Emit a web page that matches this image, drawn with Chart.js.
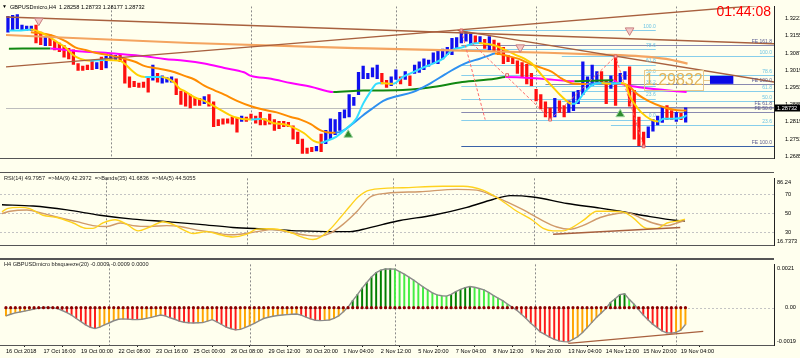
<!DOCTYPE html>
<html><head><meta charset="utf-8">
<script src="https://cdn.jsdelivr.net/npm/chart.js@4.4.1/dist/chart.umd.min.js"></script>
<style>
html,body{margin:0;padding:0;background:#FFFFEE;}
#wrap{position:relative;width:800px;height:358px;overflow:hidden;background:#FFFFEE;}
canvas{position:absolute;left:0;}
</style></head><body>
<div id="wrap">
<canvas id="cPrice" width="800" height="172" style="top:0;width:800px;height:172px"></canvas>
<canvas id="cRsi" width="800" height="87" style="top:172px;width:800px;height:87px"></canvas>
<canvas id="cHist" width="800" height="100" style="top:258px;width:800px;height:100px"></canvas>
</div>
<script>
// ---------------- DATA ----------------
const timeBars = [0,8,16,24,32,40,48,56,64,72,80,88,96,104,112,120,128,136,144];
const timeLabels = ["16 Oct 2018","17 Oct 16:00","19 Oct 00:00","22 Oct 08:00","23 Oct 16:00","25 Oct 00:00","26 Oct 08:00","29 Oct 12:00","30 Oct 20:00","1 Nov 04:00","2 Nov 12:00","5 Nov 20:00","7 Nov 04:00","8 Nov 12:00","9 Nov 20:00","13 Nov 04:00","14 Nov 12:00","15 Nov 20:00","19 Nov 04:00"];
const sepBars = [22,52,83,113,143];
const priceTicks = [1.32210,1.31550,1.30870,1.30190,1.29530,1.28850,1.28190,1.27510,1.26850];
const lastBar = {open:1.28258, high:1.28733, low:1.28177, close:1.28732};

const barHigh = [
1.3230,1.3234,1.3237,1.3196,1.3192,1.3192,1.3196,1.3168,1.3151,1.3158,
1.3133,1.3126,1.3116,1.3105,1.3099,1.3046,1.3036,1.3040,1.3057,1.3050,
1.3071,1.3074,1.3081,1.3078,1.3081,1.3064,1.2994,1.2977,1.2970,1.2974,
1.2994,1.3040,1.3008,1.2998,1.2991,1.2994,1.2987,1.2939,1.2935,1.2925,
1.2915,1.2911,1.2918,1.2925,1.2897,1.2828,1.2831,1.2831,1.2838,1.2835,
1.2842,1.2838,1.2849,1.2842,1.2856,1.2831,1.2849,1.2828,1.2821,1.2821,
1.2817,1.2804,1.2779,1.2752,1.2717,1.2720,1.2724,1.2772,1.2786,1.2831,
1.2828,1.2856,1.2866,1.2925,1.2915,1.3012,1.3036,1.3008,1.3029,1.3040,
1.3008,1.2981,1.2994,1.3022,1.2994,1.3015,1.2998,1.3040,1.3053,1.3064,
1.3060,1.3088,1.3099,1.3102,1.3109,1.3144,1.3147,1.3175,1.3168,1.3161,
1.3154,1.3151,1.3140,1.3151,1.3137,1.3126,1.3109,1.3078,1.3067,1.3057,
1.3050,1.3043,1.3008,1.2946,1.2925,1.2897,1.2873,1.2911,1.2901,1.2883,
1.2901,1.2935,1.2942,1.3053,1.2994,1.3040,1.3015,1.3015,1.2981,1.2998,
1.3074,1.3008,1.3015,1.3033,1.2942,1.2838,1.2779,1.2800,1.2828,1.2842,
1.2876,1.2883,1.2863,1.2856,1.2852,1.28733];
const barLow = [
1.3168,1.3175,1.3182,1.3175,1.3175,1.3175,1.3126,1.3119,1.3116,1.3116,
1.3099,1.3092,1.3071,1.3064,1.3043,1.3019,1.3019,1.3022,1.3022,1.3026,
1.3022,1.3029,1.3057,1.3057,1.3053,1.2970,1.2953,1.2956,1.2953,1.2953,
1.2935,1.2981,1.2974,1.2970,1.2974,1.2974,1.2925,1.2887,1.2880,1.2873,
1.2883,1.2883,1.2890,1.2880,1.2800,1.2804,1.2810,1.2814,1.2810,1.2779,
1.2821,1.2821,1.2828,1.2814,1.2807,1.2807,1.2810,1.2786,1.2793,1.2800,
1.2800,1.2752,1.2734,1.2696,1.2696,1.2703,1.2706,1.2703,1.2734,1.2752,
1.2769,1.2786,1.2835,1.2838,1.2883,1.2925,1.2987,1.2987,1.2994,1.2987,
1.2967,1.2953,1.2960,1.2984,1.2967,1.2984,1.2960,1.3008,1.3012,1.3022,
1.3036,1.3046,1.3046,1.3064,1.3081,1.3081,1.3105,1.3126,1.3133,1.3123,
1.3126,1.3123,1.3105,1.3099,1.3092,1.3081,1.3046,1.3053,1.3046,1.3008,
1.2994,1.2967,1.2960,1.2901,1.2870,1.2838,1.2828,1.2838,1.2856,1.2838,
1.2856,1.2863,1.2890,1.2925,1.2949,1.2960,1.2974,1.2974,1.2890,1.2949,
1.2883,1.2974,1.2984,1.2880,1.2752,1.2727,1.2724,1.2758,1.2783,1.2807,
1.2817,1.2828,1.2828,1.2821,1.2828,1.28177];
const barUp = [
1,1,1,1,1,1,0,0,1,0, 0,0,0,0,0,0,0,0,0,1, 0,1,1,1,0,0,0,0,0,0,
0,1,0,1,1,1,0,0,0,0, 0,0,1,0,0,0,0,0,0,0, 1,0,0,0,0,0,0,0,0,0,
0,0,0,0,0,0,1,0,1,1, 1,1,1,1,1,1,1,1,1,1, 0,0,1,1,0,1,0,1,1,1,
1,1,1,1,1,1,1,1,1,1, 0,1,0,1,0,0,0,0,0,0, 0,0,0,0,0,0,0,1,0,0,
1,1,1,1,1,1,1,0,0,1, 0,1,1,0,0,0,0,1,1,1, 1,0,0,1,0,1];

// moving averages: [bar, price]
const fastMa = [[0.2,1.3175],[2.8,1.3175],[4.9,1.3178],[5.9,1.3175],[8.7,1.3151],[10.2,1.3133],[12.3,1.3109],[13.8,1.3081],[15.5,1.3064],[17.6,1.3057],[20.8,1.3060],[24.0,1.3057],[25.1,1.3043],[26.5,1.3019],[27.8,1.3001],[29.3,1.2994],[31.4,1.2994],[32.9,1.2994],[34.6,1.2984],[35.7,1.2970],[36.7,1.2949],[37.8,1.2939],[39.9,1.2915],[42.0,1.2901],[44.8,1.2873],[48.4,1.2838],[52.0,1.2828],[54.1,1.2831],[56.9,1.2814],[59.0,1.2810],[61.1,1.2797],[63.3,1.2776],[65.4,1.2745],[66.9,1.2738],[68.2,1.2745],[70.3,1.2762],[72.4,1.2793],[74.5,1.2831],[76.0,1.2890],[77.5,1.2935],[78.8,1.2967],[79.8,1.2970],[82.4,1.2967],[84.5,1.2994],[86.6,1.3012],[88.7,1.3029],[90.9,1.3046],[93.0,1.3064],[95.1,1.3099],[97.2,1.3109],[99.4,1.3123],[100.8,1.3126],[102.1,1.3123],[104.2,1.3116],[106.4,1.3099],[108.5,1.3081],[110.6,1.3064],[112.1,1.3046],[114.2,1.3001],[116.3,1.2960],[118.5,1.2918],[120.6,1.2890],[121.2,1.2890],[123.4,1.2935],[124.8,1.2960],[127.0,1.2970],[129.1,1.2967],[131.2,1.2970],[132.3,1.2960],[132.9,1.2925],[134.0,1.2890],[135.5,1.2856],[137.6,1.2828],[139.1,1.2821],[140.3,1.2831],[142.4,1.2831],[144.6,1.2838],[145.2,1.2845]];
const midMa = [[4.9,1.3168],[8.1,1.3161],[10.2,1.3151],[12.3,1.3133],[14.4,1.3109],[16.6,1.3099],[18.7,1.3088],[20.8,1.3081],[22.9,1.3074],[25.1,1.3064],[27.2,1.3053],[29.3,1.3036],[31.4,1.3029],[33.5,1.3022],[35.7,1.3012],[37.8,1.2998],[39.9,1.2984],[42.0,1.2960],[44.2,1.2942],[46.3,1.2925],[49.0,1.2901],[52.0,1.2880],[54.8,1.2866],[57.5,1.2856],[60.5,1.2838],[62.6,1.2828],[64.8,1.2810],[66.9,1.2786],[68.2,1.2779],[70.1,1.2777],[71.8,1.2786],[73.9,1.2814],[76.0,1.2845],[78.1,1.2873],[80.3,1.2901],[83.0,1.2918],[86.6,1.2935],[90.2,1.2967],[93.6,1.3005],[96.6,1.3036],[98.7,1.3053],[100.8,1.3064],[103.0,1.3078],[104.2,1.3085],[105.7,1.3081],[107.2,1.3074],[109.3,1.3064],[111.5,1.3046],[114.2,1.3029],[116.3,1.3015],[118.5,1.2987],[121.2,1.2967],[123.8,1.2966],[127.0,1.2970],[130.1,1.2970],[132.7,1.2960],[134.8,1.2925],[137.0,1.2901],[139.7,1.2880],[142.5,1.2866],[145.2,1.2863]];
const slowMa = [[0.2,1.3104],[9.1,1.3105],[12.3,1.3099],[16.6,1.3092],[20.8,1.3088],[25.1,1.3081],[29.3,1.3074],[33.5,1.3064],[37.8,1.3057],[42.0,1.3046],[46.3,1.3029],[50.5,1.3012],[52.0,1.2998],[56.3,1.2987],[60.5,1.2970],[64.8,1.2956],[69.6,1.2935],[76.0,1.2941],[83.0,1.2942],[90.2,1.2953],[97.2,1.2974],[104.2,1.2987],[106.4,1.2994],[114.2,1.2987],[121.2,1.2977],[124.4,1.2979],[129.5,1.2981],[130.6,1.2970],[135.5,1.2953],[145.2,1.2935]];
const sandyLine = [[-0.42,1.3157],[38.9,1.3126],[77.1,1.3105],[115.3,1.3088],[127,1.3081],[135.5,1.3074],[140.8,1.3064],[145.4,1.3046]];

// drawn objects (bar, price)
const trendA = [[-0.42,1.3227],[163.9,1.3123]];
const trendB = [[-0.42,1.3033],[163.9,1.3277]];
const trendC = [[96.2,1.3175],[163.9,1.2974]];
const zigA = [[97,1.3175],[102.1,1.2828]];
const zigB = [[99.4,1.3123],[115.3,1.2845]];
const zigC = [[116,1.2828],[130,1.3074],[136,1.2724]];
const zigMarks = [[97,1.3175],[116,1.2828],[130,1.3074],[136,1.2724],[106.8,1.3001]];
const downArrows = [[6.6,1.3213],[109.6,1.3109],[133,1.3175]];
const upArrows = [[72.8,1.2769],[131,1.2849]];

const fibSet1Levels = [100.0,78.6,61.8,50.0,38.2,23.6,0.0];
const fibSet1Prices = [1.3175,1.3101,1.3042,1.3001,1.2960,1.2910,1.2828];
const fibSet1Span = [97,138.6];
const fibSet2Levels = [100.0,78.6,61.8,50.0,23.6];
const fibSet2Prices = [1.3074,1.3000,1.2940,1.2899,1.2807];
const fibSet2Start = [118.5,118.5,118.5,118.5,129];
const feNames = ['FE 161.8','FE 100.0','FE 61.8','FE 50.0','FE 100.0'];
const fePrices = [1.3119,1.2967,1.2876,1.2859,1.2724];
const feStart = [97,115,115,97,97];
const bigLevel = 1.29832;
const bigBoxBars = [136.1,148.8];
const blueRectBars = [150.2,155.2];
const blueRectPrices = [1.2998,1.2967];
const clockText = "01:44:08";

// RSI panel: [bar, value]
const rsiFast = [[0,51.5],[1.1,54.8],[3.8,56.2],[5.9,54.8],[8.7,47.9],[11.7,45.5],[15.1,39.7],[18.0,34.1],[19.3,34.1],[21.4,39.7],[24.0,43.2],[26.5,38.3],[28.9,31.4],[31.4,35.5],[34.2,41.1],[36.3,38.3],[38.4,32.8],[40.6,28.7],[43.5,30.6],[46.3,27.3],[49.0,25.0],[52.0,27.9],[54.1,33.3],[56.3,33.6],[59.0,32.8],[61.8,28.7],[63.9,24.5],[66.0,22.3],[67.5,24.5],[69.6,32.8],[71.8,45.2],[73.9,57.6],[75.6,67.2],[78.1,74.4],[85.1,76.9],[93.6,78.5],[97.9,78.5],[102.1,74.4],[105.7,64.5],[109.3,52.1],[112.7,42.4],[114.9,34.1],[117.0,31.4],[119.1,31.4],[121.2,35.5],[123.4,42.4],[126.3,52.1],[129.1,52.1],[131.8,51.5],[134.0,45.2],[136.9,34.1],[139.1,34.1],[141.2,39.7],[144.0,42.4],[145.0,43.8]];
const rsiMa9 = [[0,49.6],[1.7,52.1],[5.3,53.5],[8.7,49.8],[12.3,45.2],[15.9,41.1],[19.3,37.0],[22.3,36.1],[25.1,39.7],[27.8,37.0],[31.4,36.1],[35.0,37.0],[37.8,36.1],[41.4,32.2],[44.8,30.0],[48.4,27.3],[50.5,27.9],[54.1,30.6],[57.5,32.8],[61.1,30.0],[64.8,26.7],[67.5,25.9],[69.6,28.7],[72.4,38.3],[75.4,52.1],[78.1,66.9],[81.7,71.1],[88.7,72.7],[96.6,75.2],[100.8,74.4],[104.2,68.6],[107.2,62.0],[110.6,53.7],[114.2,43.8],[117.8,35.5],[120.6,33.1],[123.4,37.2],[127.0,45.5],[130.6,49.8],[132.7,50.7],[135.5,45.2],[138.2,39.7],[141.2,37.0],[143.3,39.7],[145.0,42.3]];
const rsiBands = [[0,58.9],[6.6,57.6],[13.8,53.5],[20.8,47.9],[27.8,43.8],[35.0,41.1],[42.0,38.3],[49.0,35.0],[56.3,33.3],[63.3,31.4],[70.3,30.6],[73.9,30.6],[77.5,34.1],[80.9,38.3],[84.5,42.4],[91.5,47.9],[98.7,56.2],[104.2,64.5],[107.9,68.6],[112.7,67.2],[120.0,60.3],[127.0,55.4],[131.2,52.1],[137.6,46.5],[143.3,42.4],[145.0,41.7]];
const rsiTrend = [[117,27.9],[144,35.0]];
const rsiLevels = [70,50,30];

// bbsqueeze histogram, one value per bar
const histVals = [
-0.00044,-0.00035,-0.00028,-0.00023,-0.00018,-0.00013,-0.00007,-0.00002,0.00001,0.00001,
0.00000,-0.00005,-0.00015,-0.00026,-0.00040,-0.00058,-0.00075,-0.00092,-0.00105,-0.00112,
-0.00104,-0.00092,-0.00082,-0.00070,-0.00062,-0.00060,-0.00061,-0.00063,-0.00064,-0.00062,
-0.00057,-0.00052,-0.00045,-0.00039,-0.00044,-0.00054,-0.00062,-0.00072,-0.00078,-0.00081,
-0.00082,-0.00081,-0.00080,-0.00072,-0.00064,-0.00076,-0.00090,-0.00104,-0.00113,-0.00119,
-0.00116,-0.00107,-0.00096,-0.00084,-0.00070,-0.00058,-0.00051,-0.00046,-0.00042,-0.00039,
-0.00037,-0.00035,-0.00034,-0.00040,-0.00050,-0.00060,-0.00067,-0.00069,-0.00068,-0.00066,
-0.00057,-0.00044,-0.00022,0.00003,0.00038,0.00070,0.00105,0.00135,0.00165,0.00188,
0.00202,0.00208,0.00208,0.00207,0.00194,0.00180,0.00164,0.00148,0.00130,0.00112,
0.00096,0.00080,0.00069,0.00064,0.00062,0.00072,0.00086,0.00098,0.00108,0.00114,
0.00110,0.00103,0.00096,0.00082,0.00066,0.00052,0.00038,0.00020,0.00003,-0.00013,
-0.00035,-0.00058,-0.00083,-0.00105,-0.00130,-0.00143,-0.00158,-0.00170,-0.00178,-0.00182,
-0.00183,-0.00170,-0.00156,-0.00134,-0.00108,-0.00080,-0.00053,-0.00029,-0.00005,0.00028,
0.00048,0.00070,0.00075,0.00045,0.00020,-0.00010,-0.00039,-0.00065,-0.00088,-0.00107,
-0.00124,-0.00135,-0.00136,-0.00132,-0.00120,-0.00090];
const histTrend = [[120,-0.00191],[148.8,-0.00127]];

// ---------------- STYLE ----------------
const BG = '#FFFFEE';
const FONT = '"Liberation Sans", Arial, sans-serif';
const X_MIN = -0.42, X_MAX = 163.9;
const UP = '#1010F0', DOWN = '#FF1010';
const FIB = '#87CEEB', FE = '#8A8AB0', FE_DARK = '#3A62A8', BROWN = '#A8603E';
Chart.defaults.font.family = FONT;
Chart.defaults.animation = false;

const pts = a => a.map(p => ({x: p[0], y: p[1]}));
function lineDs(points, color, width, order, extra) {
  return Object.assign({type: 'line', data: pts(points), borderColor: color, borderWidth: width,
    pointRadius: 0, fill: false, tension: 0, order: order, clip: 0}, extra || {});
}
function slopeColor(up, down) {
  return {borderColor: c => c.p1.parsed.y >= c.p0.parsed.y ? up : down};
}
function xScale(show) {
  return {type: 'linear', min: X_MIN, max: X_MAX, offset: false, display: show,
    grid: {display: show, drawOnChartArea: false, drawTicks: true, tickLength: 2, color: '#222'},
    border: {display: false},
    afterBuildTicks: s => { s.ticks = timeBars.map(v => ({value: v})); },
    afterFit: s => { s.height = 13; },
    ticks: {autoSkip: false, maxRotation: 0, minRotation: 0, align: 'start', padding: 1, color: '#000',
      font: {family: FONT, size: 5.6}, callback: (v, i) => timeLabels[i]}};
}
function yScale(min, max, ticks, fmt) {
  return {type: 'linear', position: 'right', min: min, max: max,
    grid: {display: false}, border: {display: true, color: '#222', width: 1},
    afterBuildTicks: s => { s.ticks = ticks.map(v => ({value: v})); },
    afterFit: s => { s.width = 26; },
    ticks: {padding: 3, color: '#000', font: {family: FONT, size: 5.6}, callback: fmt}};
}
function txt(ctx, s, x, y, color, size, align, base) {
  ctx.save(); ctx.fillStyle = color; ctx.font = size + 'px ' + FONT;
  ctx.textAlign = align || 'left'; ctx.textBaseline = base || 'middle'; ctx.fillText(s, x, y); ctx.restore();
}
function hline(ctx, x1, x2, y, color, w, dash) {
  ctx.save(); ctx.strokeStyle = color; ctx.lineWidth = w; ctx.setLineDash(dash || []);
  const yy = Math.round(y) + 0.5; ctx.beginPath(); ctx.moveTo(x1, yy); ctx.lineTo(x2, yy); ctx.stroke(); ctx.restore();
}
function fillBg(chart) { const c = chart.ctx; c.save(); c.fillStyle = BG; c.fillRect(0, 0, chart.width, chart.height); c.restore(); }
function separators(chart) {
  const {ctx, chartArea: a, scales: {x}} = chart;
  ctx.save(); ctx.strokeStyle = '#8a8a8a'; ctx.lineWidth = 1; ctx.setLineDash([2, 2]);
  for (const b of sepBars) { const px = Math.round(x.getPixelForValue(b)) + 0.5;
    ctx.beginPath(); ctx.moveTo(px, a.top); ctx.lineTo(px, a.bottom); ctx.stroke(); }
  ctx.restore();
}
const baseOpts = {responsive: false, animation: false, events: [],
  plugins: {legend: {display: false}, tooltip: {enabled: false}}};

// ---------------- PRICE PANEL ----------------
const pricePlugin = {
  id: 'pricePanel',
  beforeDraw: fillBg,
  beforeDatasetsDraw(chart) {
    const {ctx, chartArea: a, scales: {x, y}} = chart;
    ctx.save(); ctx.beginPath(); ctx.rect(a.left, a.top, a.width, a.height); ctx.clip();
    separators(chart);
    hline(ctx, a.left, a.right, y.getPixelForValue(lastBar.close), '#BDBDBD', 1);
    fibSet1Prices.forEach(p => hline(ctx, x.getPixelForValue(fibSet1Span[0]), x.getPixelForValue(fibSet1Span[1]), y.getPixelForValue(p), FIB, 1));
    fibSet2Prices.forEach((p, k) => hline(ctx, x.getPixelForValue(fibSet2Start[k]), a.right, y.getPixelForValue(p), FIB, 1));
    fePrices.forEach((p, k) => hline(ctx, x.getPixelForValue(feStart[k]), a.right, y.getPixelForValue(p), k === 4 ? FE_DARK : FE, 1));
    ctx.restore();
  },
  afterDatasetsDraw(chart) {
    const {ctx, chartArea: a, scales: {x, y}} = chart;
    const x1e = x.getPixelForValue(fibSet1Span[1]);
    fibSet1Levels.forEach((l, k) => txt(ctx, l.toFixed(1), x1e, y.getPixelForValue(fibSet1Prices[k]) - 1, '#6CC4E4', 5, 'right', 'bottom'));
    fibSet2Levels.forEach((l, k) => txt(ctx, l.toFixed(1), a.right - 2, y.getPixelForValue(fibSet2Prices[k]) - 1, '#6CC4E4', 5, 'right', 'bottom'));
    feNames.forEach((n, k) => txt(ctx, n, a.right - 2, y.getPixelForValue(fePrices[k]) - 1, '#5A5A90', 5, 'right', 'bottom'));
    // big level box
    const by = y.getPixelForValue(bigLevel), bx1 = x.getPixelForValue(bigBoxBars[0]), bx2 = x.getPixelForValue(bigBoxBars[1]);
    const rx1 = x.getPixelForValue(blueRectBars[0]), rx2 = x.getPixelForValue(blueRectBars[1]);
    ctx.save();
    ctx.strokeStyle = '#E8C88A'; ctx.lineWidth = 1;
    ctx.strokeRect(Math.round(bx1) + 0.5, Math.round(by - 10) + 0.5, Math.round(bx2 - bx1), 20);
    ctx.beginPath(); ctx.moveTo(bx2, Math.round(by) + 0.5); ctx.lineTo(rx1, Math.round(by) + 0.5); ctx.stroke();
    ctx.fillStyle = '#0A0AE6';
    const ry1 = y.getPixelForValue(blueRectPrices[0]), ry2 = y.getPixelForValue(blueRectPrices[1]);
    ctx.fillRect(rx1, ry1, rx2 - rx1, ry2 - ry1);
    ctx.restore();
    txt(ctx, bigLevel.toFixed(5), (bx1 + bx2) / 2, by + 1, '#E2B45A', 16, 'center', 'middle');
  },
  afterDraw(chart) {
    const {ctx, chartArea: a, scales: {y}} = chart;
    hline(ctx, 0, a.right, a.bottom, '#555', 1);
    txt(ctx, '\u25BC', 2, 7, '#000', 5, 'left', 'middle');
    txt(ctx, 'GBPUSDmicro,H4  ' + [lastBar.open, lastBar.high, lastBar.low, lastBar.close].map(v => v.toFixed(5)).join(' '), 10, 7, '#000', 5.6, 'left', 'middle');
    txt(ctx, clockText, 771, 12, '#FF0000', 14, 'right', 'middle');
    const py = Math.round(y.getPixelForValue(lastBar.close));
    ctx.save(); ctx.fillStyle = '#000'; ctx.fillRect(a.right + 1, py - 3.5, 26, 7); ctx.restore();
    txt(ctx, lastBar.close.toFixed(5), a.right + 3, py, '#FFF', 5.6, 'left', 'middle');
  }
};

const priceDatasets = [
  {type: 'bar', data: barHigh.map((h, i) => ({x: i, y: [barLow[i], h]})),
   backgroundColor: barUp.map(u => u ? UP : DOWN), barThickness: 2.6, grouped: false, order: 40},
  lineDs(slowMa, '#FF00FF', 2, 30, {cubicInterpolationMode: 'monotone', segment: slopeColor('#118811', '#FF00FF')}),
  lineDs(midMa, '#FF8C00', 2, 20, {cubicInterpolationMode: 'monotone', segment: slopeColor('#2E90F0', '#FF8C00')}),
  lineDs(fastMa, '#FFD000', 2, 10, {cubicInterpolationMode: 'monotone', segment: slopeColor('#33DDFF', '#FFD000')}),
  lineDs(sandyLine, '#F4A460', 2.2, 8, {cubicInterpolationMode: 'monotone'}),
  lineDs(trendA, BROWN, 1.4, 6),
  lineDs(trendB, BROWN, 1.4, 6),
  lineDs(trendC, BROWN, 1.4, 6),
  lineDs(zigA, '#FF6A6A', 1, 4, {borderDash: [3, 2]}),
  lineDs(zigB, '#FF6A6A', 1, 4, {borderDash: [3, 2]}),
  lineDs(zigC, '#FF6A6A', 1, 4, {borderDash: [3, 2]}),
  lineDs(zigMarks, '#E06060', 1, 2, {showLine: false, pointStyle: 'rect', pointRadius: 2,
    pointBackgroundColor: 'rgba(255,255,255,0.6)', pointBorderColor: '#E06060', pointBorderWidth: 1}),
  lineDs(downArrows, '#D08A8A', 1, 2, {showLine: false, pointStyle: 'triangle', rotation: 180, pointRadius: 5,
    pointBackgroundColor: '#F3C6C6', pointBorderColor: '#C88080', pointBorderWidth: 1}),
  lineDs(upArrows, '#1E6E1E', 1, 2, {showLine: false, pointStyle: 'triangle', pointRadius: 5,
    pointBackgroundColor: '#2E8B2E', pointBorderColor: '#9BD39B', pointBorderWidth: 1})
];

new Chart(document.getElementById('cPrice'), {
  type: 'line',
  data: {datasets: priceDatasets},
  options: Object.assign({}, baseOpts, {
    layout: {padding: {top: 1, bottom: 1, left: 0, right: 0}},
    scales: {x: xScale(false), y: yScale(1.26786, 1.32685, priceTicks, v => v.toFixed(5))}
  }),
  plugins: [pricePlugin]
});

// ---------------- RSI PANEL ----------------
const rsiPlugin = {
  id: 'rsiPanel',
  beforeDraw: fillBg,
  beforeDatasetsDraw(chart) {
    const {ctx, chartArea: a, scales: {y}} = chart;
    rsiLevels.forEach(l => hline(ctx, a.left, a.right, y.getPixelForValue(l), '#C4C4C4', 1, [2, 2]));
    separators(chart);
  },
  afterDraw(chart) {
    const {ctx, chartArea: a} = chart;
    hline(ctx, 0, a.right, 0, '#555', 1);
    hline(ctx, 0, a.right, a.bottom, '#555', 1);
    txt(ctx, 'RSI(14) 49.7957  =>MA(9) 42.2972  =>Bands(35) 41.6836  =>MA(5) 44.5055', 4, 6, '#222', 5.6, 'left', 'middle');
    txt(ctx, '86.24', a.right + 3, a.top + 1, '#000', 5.6, 'left', 'top');
    txt(ctx, '16.7373', a.right + 3, a.bottom - 1, '#000', 5.6, 'left', 'bottom');
  }
};
new Chart(document.getElementById('cRsi'), {
  type: 'line',
  data: {datasets: [
    lineDs(rsiBands, '#000000', 1.4, 3, {cubicInterpolationMode: 'monotone'}),
    lineDs(rsiMa9, '#D09A6A', 1.4, 2, {cubicInterpolationMode: 'monotone'}),
    lineDs(rsiFast, '#FFD21E', 1.4, 1, {cubicInterpolationMode: 'monotone'}),
    lineDs(rsiTrend, BROWN, 1.4, 0)
  ]},
  options: Object.assign({}, baseOpts, {
    layout: {padding: {top: 1, bottom: 1, left: 0, right: 0}},
    scales: {x: xScale(false), y: yScale(16.53, 86.78, rsiLevels, v => String(v))}
  }),
  plugins: [rsiPlugin]
});

// ---------------- BBSQUEEZE PANEL ----------------
const histColors = histVals.map((v, i) => {
  const prev = i ? histVals[i - 1] : v;
  if (v >= 0) return v >= prev ? '#007F00' : '#44EE44';
  return v < prev ? '#FF1A1A' : '#FFA500';
});
const histPlugin = {
  id: 'histPanel',
  beforeDraw: fillBg,
  beforeDatasetsDraw(chart) {
    const {ctx, chartArea: a, scales: {y}} = chart;
    hline(ctx, a.left, a.right, y.getPixelForValue(0), '#C4C4C4', 1, [2, 2]);
    separators(chart);
  },
  afterDraw(chart) {
    const {ctx, chartArea: a} = chart;
    ctx.save(); ctx.fillStyle = '#555'; ctx.fillRect(0, 0, a.right, 2); ctx.restore();
    hline(ctx, 0, a.right, a.bottom, '#555', 1);
    txt(ctx, 'H4 GBPUSDmicro bbsqueeze(20) -0.0009 -0.0009 0.0000', 4, 6, '#222', 5.6, 'left', 'middle');
    txt(ctx, '0.0021', a.right + 3, a.top + 1, '#000', 5.6, 'left', 'top');
    txt(ctx, '-0.0019', a.right + 3, a.bottom - 1, '#000', 5.6, 'left', 'bottom');
  }
};
new Chart(document.getElementById('cHist'), {
  type: 'line',
  data: {datasets: [
    {type: 'bar', data: histVals.map((v, i) => ({x: i, y: v})), backgroundColor: histColors,
     barThickness: 1.3, grouped: false, order: 5},
    lineDs(histVals.map((v, i) => [i, v]), '#8A8A8A', 1.4, 3),
    lineDs(histVals.map((v, i) => [i, 0]), '#800000', 1, 1, {showLine: false, pointRadius: 1.6,
      pointBackgroundColor: '#8B0000', pointBorderWidth: 0}),
    lineDs(histTrend, BROWN, 1.4, 0)
  ]},
  options: Object.assign({}, baseOpts, {
    layout: {padding: {top: 2, bottom: 0, left: 0, right: 0}},
    scales: {x: xScale(true), y: yScale(-0.0020, 0.002326, [0], () => '0.00')}
  }),
  plugins: [histPlugin]
});
</script>
</body></html>
